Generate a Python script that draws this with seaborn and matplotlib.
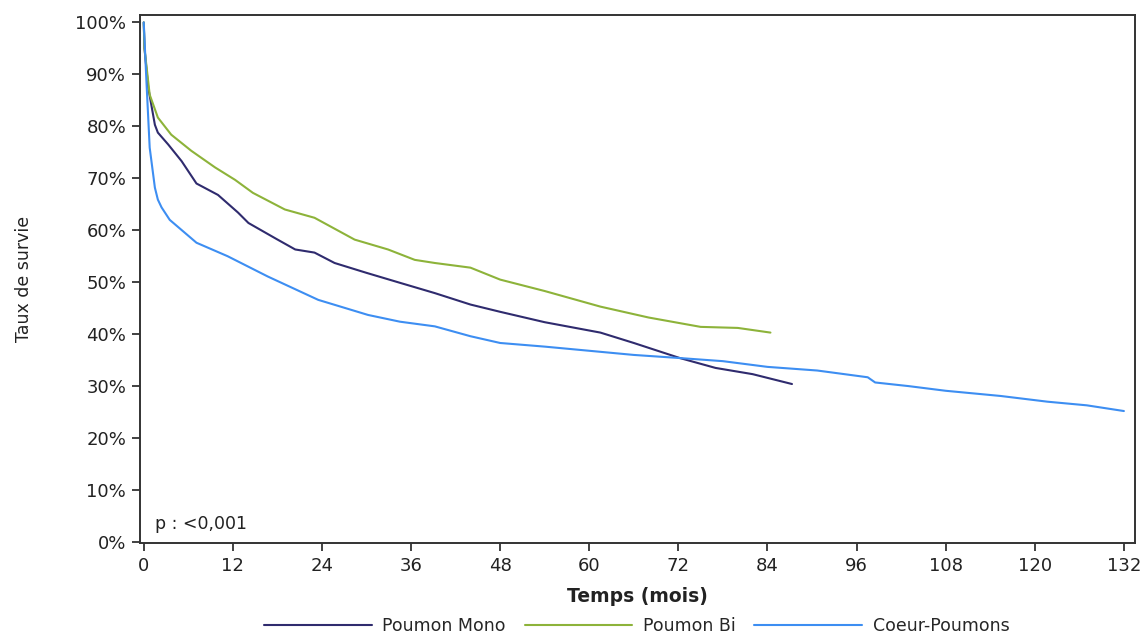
import numpy as np
import pandas as pd
import matplotlib
matplotlib.use("Agg")
import matplotlib.pyplot as plt
import seaborn as sns
from matplotlib.ticker import FuncFormatter

# ---- data (months, survival %) ----
mono_t = [0, 0.1, 0.6, 1.5, 1.9, 3.3, 5.1, 7.1, 10.0, 12.7, 14.1, 17.9, 20.4, 23.0, 25.7,
          30, 34.7, 39.2, 44, 48, 54, 61.5, 66, 72.2, 77, 82, 87.3]
mono_s = [100, 95, 87.5, 80.3, 78.8, 76.5, 73.3, 69.0, 66.8, 63.4, 61.4, 58.3, 56.3, 55.7, 53.7,
          51.8, 49.8, 47.9, 45.7, 44.3, 42.3, 40.3, 38.3, 35.4, 33.5, 32.3, 30.4]

bi_t = [0, 0.1, 0.8, 1.9, 3.7, 6.4, 9.6, 12.3, 14.7, 19.0, 23.0, 28.4, 32.9, 36.5, 39.2,
        44, 48, 54, 61.5, 68, 75, 80, 84.4]
bi_s = [100, 95, 86.1, 81.7, 78.4, 75.3, 72.1, 69.7, 67.2, 64.0, 62.4, 58.2, 56.3, 54.3, 53.7,
        52.8, 50.5, 48.3, 45.3, 43.2, 41.4, 41.2, 40.3]

cp_t = [0, 0.36, 0.8, 1.5, 1.9, 2.4, 3.5, 7.1, 11.3, 16.7, 23.5, 30.2, 34.5, 39.2, 44, 48,
        54, 61.5, 66, 72.2, 78, 84, 90.7, 97.5, 98.5, 103, 108, 115.4, 121.7, 127, 132]
cp_s = [100, 88.7, 75.9, 68.2, 65.9, 64.4, 62.0, 57.6, 55.0, 51.1, 46.6, 43.7, 42.4, 41.5, 39.6, 38.3,
        37.6, 36.6, 36.0, 35.4, 34.8, 33.7, 33.0, 31.7, 30.7, 30.0, 29.1, 28.1, 27.0, 26.3, 25.2]

groups = ["Poumon Mono", "Poumon Bi", "Coeur-Poumons"]
colors = ["#2f2b6e", "#8db33a", "#3d8ef2"]
x_ticks = list(range(0, 133, 12))
y_ticks = list(range(0, 101, 10))

df = pd.concat([
    pd.DataFrame({"t": mono_t, "s": mono_s, "g": groups[0]}),
    pd.DataFrame({"t": bi_t, "s": bi_s, "g": groups[1]}),
    pd.DataFrame({"t": cp_t, "s": cp_s, "g": groups[2]}),
], ignore_index=True)

sns.set_theme(style="white")
plt.rcParams["font.family"] = ["DejaVu Sans"]

fig = plt.figure(figsize=(11.45, 6.35), dpi=100)
ax = fig.add_axes([0.1223, 0.1449, 0.869, 0.832])

sns.lineplot(data=df, x="t", y="s", hue="g", hue_order=groups,
             palette=dict(zip(groups, colors)), linewidth=1.5, ax=ax,
             estimator=None, sort=False, legend=True)

ax.set_xlim(-0.5, 133.5)
ax.set_ylim(-0.2, 101.5)
ax.set_xticks(x_ticks)
ax.set_yticks(y_ticks)
ax.yaxis.set_major_formatter(FuncFormatter(lambda v, p: f"{int(v)}%"))
ax.tick_params(axis="both", which="major", labelsize=13, length=6, width=1.3,
               color="#333333", labelcolor="#222222", direction="out",
               bottom=True, left=True, pad=4)
for sp in ax.spines.values():
    sp.set_color("#333333")
    sp.set_linewidth(1.4)

ax.set_xlabel("Temps (mois)", fontsize=13.5, fontweight="bold", color="#222222", labelpad=9)
ax.set_ylabel("Taux de survie", fontsize=12.5, color="#222222", labelpad=30)

ax.text(1.5, 1.8, "p : <0,001", fontsize=12.5, color="#222222", ha="left", va="bottom")

handles, labels = ax.get_legend_handles_labels()
ax.get_legend().remove()
fig.legend(handles, labels, loc="center", bbox_to_anchor=(0.556, 0.014),
           ncol=3, frameon=False, fontsize=12.5, handlelength=6.2, columnspacing=1.1,
           handletextpad=0.6, borderpad=0.1)

fig.savefig("out.png", dpi=100)
